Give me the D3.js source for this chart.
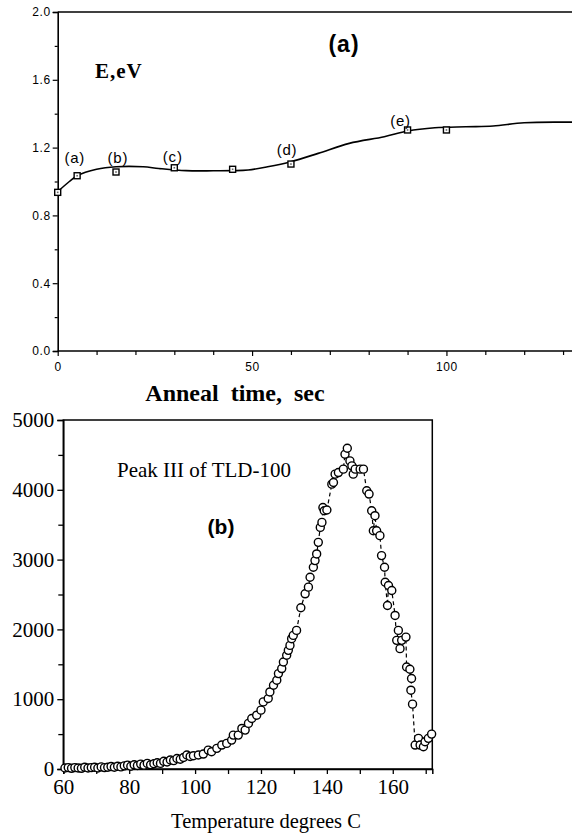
<!DOCTYPE html>
<html><head><meta charset="utf-8">
<script src="https://cdn.jsdelivr.net/npm/d3@7"></script>
<style>body{margin:0;background:#fff}svg{display:block}</style>
</head><body>
<script>
// ---- Panel (a) data ----
const annealTime = [0, 5, 15, 30, 45, 60, 90, 100];
const energyEV = [0.936, 1.034, 1.056, 1.081, 1.072, 1.103, 1.304, 1.304];
const pointLabels = ["(a)", "(b)", "(c)", "(d)", "(e)"];
const labelTimes = [4.4, 15.5, 29.6, 59, 88.2];
const labelE = [1.111, 1.111, 1.117, 1.155, 1.328];
const curveTime = [0, 3, 5, 10, 15, 22, 26, 33, 40, 45, 49, 54, 60, 67, 75, 84, 90, 97, 105, 112, 120, 132.3];
const curveE = [0.94, 1.0, 1.034, 1.072, 1.087, 1.087, 1.077, 1.064, 1.063, 1.064, 1.068, 1.087, 1.117, 1.166, 1.225, 1.264, 1.298, 1.317, 1.323, 1.327, 1.347, 1.35];
const yTicksA = [0, 0.4, 0.8, 1.2, 1.6, 2.0];
const xTicksA = [0, 50, 100];

// ---- Panel (b) data ----
const temperature = [60.5,61.5,62.5,63.5,64.5,65.5,66.5,67.5,68.5,69.5,70.5,71.5,72.5,73.5,74.5,75.5,76.5,77.5,78.5,79.5,
 80.5,81.5,82.5,83.5,84.5,85.5,86.5,87.5,88.5,89.5,90.5,91.5,92.5,93.5,94.5,95.5,96.5,97.5,98.5,
 99.5,101,102.5,104,105,106.6,108.1,109.6,111.1,111.6,113.1,114.2,115.2,116.2,117.2,118.7,120,120.7,122.2,122.7,123.8,
 124.8,125.3,126.3,126.8,127.8,128.3,128.8,129.3,129.8,130.8,132.1,133.4,134.4,134.9,135.9,136.4,136.9,137.4,138.0,138.5,
 138.8,139.2,140.0,141.5,142.0,142.5,143.5,145.0,145.5,146.2,147.0,147.6,148.0,148.6,150.1,151.1,152.1,152.8,153.6,154.1,
 154.6,155.1,156.1,156.6,157.5,157.7,158.4,158.7,159.7,160.7,161.2,161.7,162.2,162.7,164.0,164.2,165.2,165.7,165.5,166.0,
 166.8,167.8,168.3,169.3,169.8,170.8,171.8];
const intensity = [15,20,10,20,15,10,25,15,20,25,15,30,20,25,35,25,40,30,45,55,
 40,60,50,70,55,80,60,75,90,80,110,100,130,120,150,140,165,200,180,
 190,200,214,271,247,296,343,367,414,486,486,581,557,653,724,771,843,961,1010,1104,1200,
 1271,1367,1439,1533,1629,1700,1771,1867,1914,1986,2310,2510,2605,2747,2890,2986,3081,3247,3461,3533,
 3747,3700,3710,4081,4104,4224,4247,4296,4510,4596,4414,4343,4224,4296,4296,4296,3986,3939,3700,3414,
 3629,3414,3343,3057,2890,2676,2343,2629,2557,2200,1843,1986,1724,1843,1890,1461,1429,1296,1129,929,
 343,439,343,319,390,439,500];
const yTicksB = [0, 1000, 2000, 3000, 4000, 5000];
const xTicksB = [60, 80, 100, 120, 140, 160];

const W = 572, H = 835;
const svg = d3.select("body").append("svg").attr("width", W).attr("height", H);
const SANS = "Liberation Sans, Arial, sans-serif";
const SERIF = "Liberation Serif, Times New Roman, serif";

// ================= Panel (a) =================
const xA = d3.scaleLinear().domain([0, 132.3]).range([57.7, 572]);
const yA = d3.scaleLinear().domain([0, 2]).range([351, 12]);
const gA = svg.append("g");

gA.append("line").attr("x1", xA(0)).attr("x2", W).attr("y1", yA(2)).attr("y2", yA(2))
  .attr("stroke", "#000").attr("stroke-width", 1.6);

gA.append("g").attr("transform", `translate(${xA(0)},0)`)
  .call(d3.axisLeft(yA).tickValues(yTicksA).tickFormat(d3.format(".1f")).tickSize(5).tickPadding(2));
gA.append("g").attr("transform", `translate(${xA(0)},0)`)
  .call(d3.axisLeft(yA).tickValues(d3.range(0.2, 2, 0.4)).tickFormat("").tickSize(3))
  .select(".domain").remove();
const axBA = gA.append("g").attr("transform", `translate(0,${yA(0)})`)
  .call(d3.axisBottom(xA).tickValues(xTicksA).tickSize(5).tickPadding(6));
gA.append("g").attr("transform", `translate(0,${yA(0)})`)
  .call(d3.axisBottom(xA).tickValues(d3.range(10, 131, 10).filter(v => v % 50 !== 0)).tickFormat("").tickSize(4))
  .select(".domain").remove();
gA.selectAll(".domain").attr("stroke-width", 1.6);
gA.selectAll(".tick line").attr("stroke-width", 1.2);
gA.selectAll(".tick text").attr("font-family", SANS).attr("font-size", 12).attr("letter-spacing", 0.6).attr("fill", "#000");
axBA.select(".domain").attr("d", `M${xA(0)},0H${W}`);

gA.append("path")
  .datum(curveTime.map((t, i) => [t, curveE[i]]))
  .attr("d", d3.line().x(d => xA(d[0])).y(d => yA(d[1])).curve(d3.curveCatmullRom))
  .attr("fill", "none").attr("stroke", "#000").attr("stroke-width", 1.6);

const sq = gA.selectAll(".sq").data(annealTime.map((t, i) => [t, energyEV[i]])).enter().append("g");
sq.append("rect").attr("x", d => xA(d[0]) - 3).attr("y", d => yA(d[1]) - 3).attr("width", 6).attr("height", 6)
  .attr("fill", "#fff").attr("stroke", "#000").attr("stroke-width", 1.4);
sq.append("rect").attr("x", d => xA(d[0]) - 0.8).attr("y", d => yA(d[1]) - 0.8).attr("width", 1.6).attr("height", 1.6)
  .attr("fill", "#666");

gA.selectAll(".plab").data(pointLabels).enter().append("text")
  .attr("x", (d, i) => xA(labelTimes[i])).attr("y", (d, i) => yA(labelE[i]))
  .attr("text-anchor", "middle").attr("font-family", SANS).attr("font-size", 15).attr("letter-spacing", 0.8)
  .text(d => d);

gA.append("text").attr("x", 344).attr("y", 52).attr("text-anchor", "middle")
  .attr("font-family", SANS).attr("font-weight", "bold").attr("font-size", 23).attr("letter-spacing", 1).text("(a)");
gA.append("text").attr("x", 95).attr("y", 78)
  .attr("font-family", SERIF).attr("font-weight", "bold").attr("font-size", 21)
  .attr("letter-spacing", 1).text("E,eV");
gA.append("text").attr("x", 235).attr("y", 401).attr("text-anchor", "middle")
  .attr("font-family", SERIF).attr("font-weight", "bold").attr("font-size", 24)
  .style("white-space", "pre").text("Anneal  time,  sec");

// ================= Panel (b) =================
const xB = d3.scaleLinear().domain([60, 172]).range([63.3, 432.3]);
const yB = d3.scaleLinear().domain([0, 5000]).range([769, 420]);
const gB = svg.append("g");

gB.append("rect").attr("x", xB(60)).attr("y", yB(5000)).attr("width", xB(172) - xB(60)).attr("height", yB(0) - yB(5000))
  .attr("fill", "none").attr("stroke", "#000").attr("stroke-width", 1.5);

gB.append("g").attr("transform", `translate(${xB(60)},0)`)
  .call(d3.axisLeft(yB).tickValues(yTicksB).tickFormat(d3.format("d")).tickSize(6).tickPadding(3));
gB.append("g").attr("transform", `translate(${xB(60)},0)`)
  .call(d3.axisLeft(yB).tickValues([500, 1500, 2500, 3500, 4500]).tickFormat("").tickSize(5))
  .select(".domain").remove();
gB.append("g").attr("transform", `translate(0,${yB(0)})`)
  .call(d3.axisBottom(xB).tickValues(xTicksB).tickFormat(d3.format("d")).tickSize(5).tickPadding(5));
gB.append("g").attr("transform", `translate(0,${yB(0)})`)
  .call(d3.axisBottom(xB).tickValues([70, 90, 110, 130, 150, 170]).tickFormat("").tickSize(5))
  .select(".domain").remove();
gB.selectAll(".domain").attr("stroke-width", 1.5);
gB.selectAll(".tick line").attr("stroke-width", 1.3);
gB.selectAll(".tick text").attr("font-family", SERIF).attr("font-size", 21).attr("fill", "#000");

const pts = temperature.map((t, i) => [t, intensity[i]]);
gB.append("path").datum(pts)
  .attr("d", d3.line().x(d => xB(d[0])).y(d => yB(d[1])))
  .attr("fill", "none").attr("stroke", "#000").attr("stroke-width", 1.2).attr("stroke-dasharray", "4,3");
gB.selectAll(".pt").data(pts).enter().append("circle")
  .attr("cx", d => xB(d[0])).attr("cy", d => yB(d[1])).attr("r", 4)
  .attr("fill", "#fff").attr("stroke", "#000").attr("stroke-width", 1.4);

gB.append("text").attr("x", 117).attr("y", 477)
  .attr("font-family", SERIF).attr("font-size", 21).text("Peak III of TLD-100");
gB.append("text").attr("x", 221).attr("y", 534).attr("text-anchor", "middle")
  .attr("font-family", SANS).attr("font-weight", "bold").attr("font-size", 21).text("(b)");
gB.append("text").attr("x", 266).attr("y", 828).attr("text-anchor", "middle")
  .attr("font-family", SERIF).attr("font-size", 20.5).text("Temperature degrees C");
</script>
</body></html>
